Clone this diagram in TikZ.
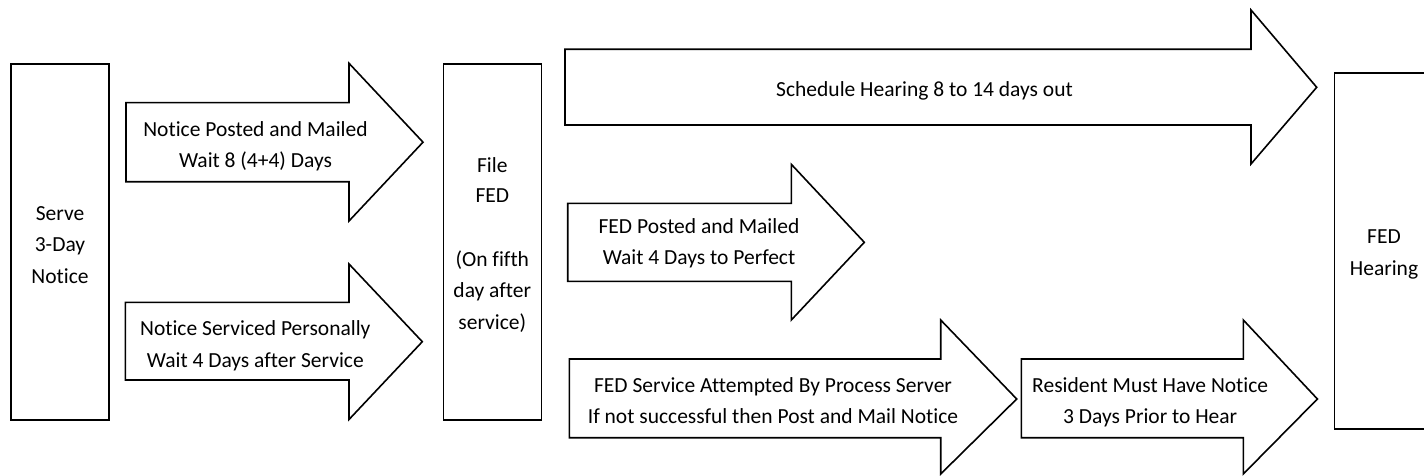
\documentclass[tikz,border=0pt]{standalone}
\usepackage{fontspec}
\setmainfont{Carlito}[Ligatures=NoCommon]
\begin{document}
\begin{tikzpicture}[x=1pt,y=-1pt,
  shapeline/.style={draw=black,line width=1.6pt,fill=white},
  lbl/.style={anchor=base,inner sep=0pt,font=\fontsize{21.5}{31.5}\selectfont}]
\useasboundingbox (0,0) rectangle (1424,476);
\clip (0,0) rectangle (1424,476);

% boxes
\draw[shapeline] (11,64.3) rectangle (109,420) coordinate (serveBR);
\draw[shapeline] (443.3,64.3) rectangle (541.3,420) coordinate (fileBR);
\draw[shapeline] (1334.5,73) rectangle (1445,429) coordinate (hearBR);

% block arrows
\draw[shapeline] (126,102.7) -- (349,102.7) -- (349,63.3) -- (423,142.2) -- (349,221) -- (349,181.7) -- (126,181.7) -- cycle;
\draw[shapeline] (125.3,302.3) -- (349,302.3) -- (349,264) -- (422.3,341.7) -- (349,419.5) -- (349,380) -- (125.3,380) -- cycle;
\draw[shapeline] (565,49.3) -- (1251,49.3) -- (1251,10) -- (1316.7,87.3) -- (1251,164) -- (1251,125) -- (565,125) -- cycle;
\draw[shapeline] (567.7,203.3) -- (791.3,203.3) -- (791.3,164.3) -- (864.3,242.3) -- (791.3,320) -- (791.3,281.3) -- (567.7,281.3) -- cycle;
\draw[shapeline] (569.3,359) -- (940.7,359) -- (940.7,320) -- (1016.7,399) -- (940.7,474) -- (940.7,437.7) -- (569.3,437.7) -- cycle;
\draw[shapeline] (1021.3,359) -- (1243.3,359) -- (1243.3,320) -- (1317.4,399) -- (1243.3,474) -- (1243.3,437.7) -- (1021.3,437.7) -- cycle;

% texts
\node[lbl] (s1) at (60,220) {Serve};
\node[lbl] (s2) at (60,251.7) {3-Day};
\node[lbl] (s3) at (60,283.3) {Notice};

\node[lbl] (a1) at (255.5,136) {Notice Posted and Mailed};
\node[lbl] (a2) at (255.5,167.3) {Wait 8 (4+4) Days};

\node[lbl] (b1) at (255.3,335.7) {Notice Serviced Personally};
\node[lbl] (b2) at (255.3,367.3) {Wait 4 Days after Service};

\node[lbl] (f1) at (492.3,172.3) {File};
\node[lbl] (f2) at (492.3,202.7) {FED};
\node[lbl] (f3) at (492.3,266) {(On fifth};
\node[lbl] (f4) at (492.3,297.5) {day after};
\node[lbl] (f5) at (492.3,329) {service)};

\node[lbl] (c1) at (924.5,96.7) {Schedule Hearing 8 to 14 days out};

\node[lbl] (d1) at (699,233.3) {FED Posted and Mailed};
\node[lbl] (d2) at (699,264) {Wait 4 Days to Perfect};

\node[lbl] (e1) at (773,392.7) {FED Service Attempted By Process Server};
\node[lbl] (e2) at (773,423.3) {If not successful then Post and Mail Notice};

\node[lbl] (g1) at (1150.2,392.7) {Resident Must Have Notice};
\node[lbl] (g2) at (1150.2,423.3) {3 Days Prior to Hear};

\node[lbl] (h1) at (1384,243.3) {FED};
\node[lbl] (h2) at (1384,275) {Hearing};
\end{tikzpicture}
\end{document}
